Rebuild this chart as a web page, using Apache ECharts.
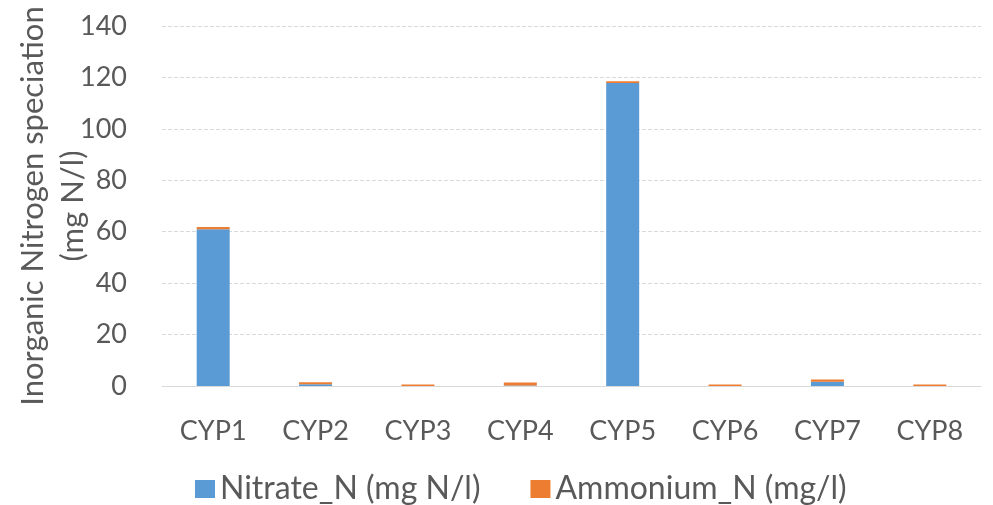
<!DOCTYPE html>
<html><head><meta charset="utf-8">
<script src="https://cdn.jsdelivr.net/npm/echarts@6/dist/echarts.min.js"></script>
<style>html,body{margin:0;padding:0;background:#fff}#c{width:993px;height:505px}</style>
</head><body><div id="c"></div>
<script>
const categories = ['CYP1','CYP2','CYP3','CYP4','CYP5','CYP6','CYP7','CYP8'];
const nitrate = [61.0, 0.7, 0.0, 0.2, 117.8, 0.0, 1.7, 0.0];
const ammonium = [0.8, 0.8, 0.6, 1.2, 0.7, 0.6, 0.8, 0.6];
const yTicks = [0, 20, 40, 60, 80, 100, 120, 140];
const font = 'Lato, "Open Sans", sans-serif';
const chart = echarts.init(document.getElementById('c'));
chart.setOption({
  animation: false,
  grid: {left: 162, right: 12, top: 26, bottom: 119, outerBoundsMode: 'none', containLabel: false},
  legend: {
    top: 468, left: 190, itemWidth: 20, itemHeight: 18, itemGap: 50,
    icon: 'rect',
    textStyle: {fontFamily: font, fontSize: 32, color: '#595959'},
    data: ['Nitrate_N (mg N/l)', 'Ammonium_N (mg/l)']
  },
  xAxis: {
    type: 'category', data: categories,
    axisLine: {lineStyle: {color: '#d9d9d9'}},
    axisTick: {show: false},
    axisLabel: {fontFamily: font, fontSize: 27, color: '#595959', margin: 32}
  },
  yAxis: {
    type: 'value', min: yTicks[0], max: yTicks[yTicks.length-1], interval: 20,
    name: 'Inorganic Nitrogen speciation\n(mg N/l)',
    nameLocation: 'middle', nameGap: 69, nameRotate: 90, nameMoveOverlap: false,
    nameTextStyle: {fontFamily: font, fontSize: 31, color: '#595959', lineHeight: 40},
    axisLine: {show: false}, axisTick: {show: false},
    axisLabel: {fontFamily: font, fontSize: 27, color: '#595959', margin: 35},
    splitLine: {lineStyle: {color: '#d9d9d9', type: 'dashed', width: 1}}
  },
  series: [
    {name: 'Nitrate_N (mg N/l)', type: 'bar', stack: 'n', data: nitrate, barWidth: 33,
     itemStyle: {color: '#5b9bd5'}},
    {name: 'Ammonium_N (mg/l)', type: 'bar', stack: 'n', data: ammonium, barWidth: 33,
     itemStyle: {color: '#ed7d31'}}
  ]
});
</script></body></html>
